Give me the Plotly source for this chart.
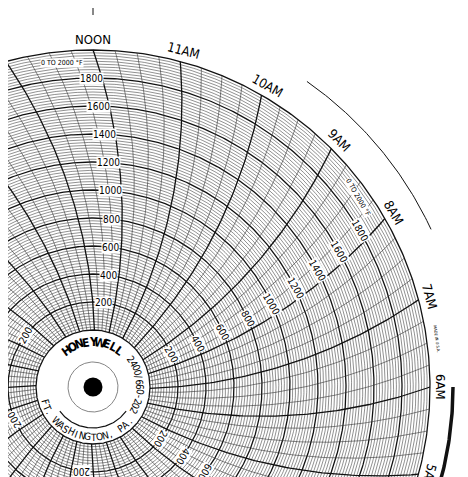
import numpy as np
import plotly.graph_objects as go

# chart paper: 0 to 2000 F, 24 hours per revolution
value_min, value_max = 0, 2000
minor_step, major_step = 20, 200
scale_labels = [200, 400, 600, 800, 1000, 1200, 1400, 1600, 1800]
hour_names = ['NOON', '11AM', '10AM', '9AM', '8AM', '7AM', '6AM', '5AM', '4AM', '3AM', '2AM', '1AM',
              'MIDNIGHT', '11PM', '10PM', '9PM', '8PM', '7PM', '6PM', '5PM', '4PM', '3PM', '2PM', '1PM']
labelled_hours = ['NOON', '8AM', '4AM', 'MIDNIGHT', '8PM', '4PM']
subdiv = 4  # 15 minute lines

PAD = 8  # page body margin
CX, CY = 93, 387
R0, R1 = 57, 337
ARM = 500


def rad(v):
    return R0 + (v - value_min) / (value_max - value_min) * (R1 - R0)


def pen(r):
    # pen arc offset, degrees clockwise
    return np.degrees(np.arccos(r / (2 * ARM)) - np.arccos(R1 / (2 * ARM)))


def pt(r, a):
    a = np.radians(a)
    return CX + r * np.sin(a), CY - r * np.cos(a)


fig = go.Figure()


def add_lines(xs, ys, w, c='#111'):
    fig.add_trace(go.Scatter(x=xs, y=ys, mode='lines', line=dict(color=c, width=w),
                             hoverinfo='skip', showlegend=False))


# circles
th = np.linspace(0, 360, 721)
groups = {'minor': ([], []), 'major': ([], [])}
for v in range(value_min, value_max + 1, minor_step):
    key = 'major' if v % major_step == 0 else 'minor'
    x, y = pt(rad(v), th)
    groups[key][0].extend(list(x) + [None])
    groups[key][1].extend(list(y) + [None])
add_lines(*groups['minor'], 0.5, '#222')
add_lines(*groups['major'], 1.3)

# time arcs
rr = np.linspace(R0, R1, 80)
tg = {'minor': ([], []), 'major': ([], [])}
for k in range(24 * subdiv):
    key = 'major' if k % subdiv == 0 else 'minor'
    x, y = pt(rr, k * 15 / subdiv + pen(rr))
    tg[key][0].extend(list(x) + [None])
    tg[key][1].extend(list(y) + [None])
add_lines(*tg['minor'], 0.6, '#333')
add_lines(*tg['major'], 1.3)

# outer marks
x, y = pt(373, np.linspace(35, 65, 60))
add_lines(x, y, 1)
x, y = pt(360, np.linspace(90, 115, 60))
add_lines(x, y, 3.5)
x, y = pt(np.array([372, 400]), 0)
add_lines(x, y, 1)

# hub
x, y = pt(25, th)
add_lines(x, y, 0.8, '#666')
x, y = pt(41, np.linspace(126, 234, 80))
add_lines(x, y, 1.2)
fig.add_trace(go.Scatter(x=[CX], y=[CY], mode='markers', marker=dict(size=19, color='black'),
                         hoverinfo='skip', showlegend=False))

ann = []


def txt(r, a, s, size, rot, bold=False, bg=None):
    x, y = pt(r, a)
    ann.append(dict(x=x, y=y, text=f'<b>{s}</b>' if bold else s, showarrow=False, textangle=rot,
                    font=dict(size=size, color='black', family='DejaVu Sans Condensed'),
                    bgcolor=bg, borderpad=0, xanchor='center', yanchor='middle'))


for i, name in enumerate(hour_names):
    txt(348, i * 15, name, 13, i * 15)

for name in labelled_hours:
    base = hour_names.index(name) * 15
    for v in scale_labels:
        r = rad(v)
        txt(r, base + pen(r) - np.degrees(11 / r), str(v), 10, base, bg='white')
    txt(326, base - 5.5, '0 TO 2000 °F', 7, base, bg='white')

txt(347, 82, 'MADE IN U.S.A.', 4, 82)

for i, ch in enumerate('HONEYWELL'):
    txt(45, -36 + i * 9, ch, 12, -36 + i * 9, bold=True)
for i, ch in enumerate('2400/660-202'):
    txt(47, 54 + i * 6, ch, 10, 54 + i * 6)
for i, ch in enumerate('FT. WASHINGTON, PA.'):
    a = 253 - i * 6.7
    txt(50, a, ch, 10, a - 180)

fig.update_layout(
    width=468, height=477, margin=dict(l=0, r=0, t=0, b=0),
    plot_bgcolor='white', paper_bgcolor='white',
    xaxis=dict(range=[PAD, 468 + PAD], visible=False, fixedrange=True),
    yaxis=dict(range=[477 + PAD, PAD], visible=False, fixedrange=True),
    annotations=ann,
)
fig.write_html('out.html')
